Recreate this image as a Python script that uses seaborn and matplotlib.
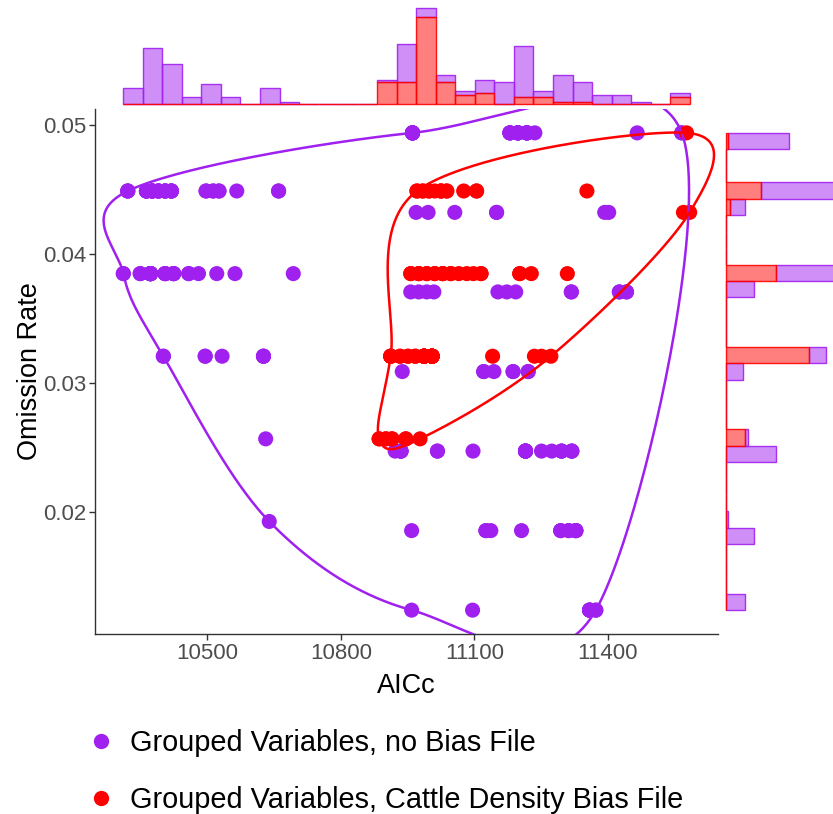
import numpy as np
import pandas as pd
import matplotlib
matplotlib.use("Agg")
import matplotlib.pyplot as plt
from matplotlib.lines import Line2D
from matplotlib.colors import to_rgb
import seaborn as sns

sns.set_style("white")
plt.rcParams["font.family"] = ["Liberation Sans", "DejaVu Sans"]

GROUPS = ["Grouped Variables, no Bias File",
          "Grouped Variables, Cattle Density Bias File"]
PALETTE = {GROUPS[0]: "#A020F0", GROUPS[1]: "#FF0000"}

# Model runs without a bias file: AICc, omission rate, number of runs at that value
nobias_aicc = [10961, 11180, 11198, 11218, 11236, 11466, 11566,
               10321, 10363, 10376, 10390, 10405, 10419, 10497, 10513, 10526, 10566, 10660,
               10969, 10996, 11056, 11150, 11393, 11402,
               10311, 10349, 10372, 10405, 10424, 10458, 10480, 10521, 10562, 10693,
               10957, 10975, 10993, 11009, 11153, 11173, 11193, 11318, 11426, 11442,
               10401, 10495, 10533, 10626,
               10938, 11121, 11144, 11187, 11221,
               10631,
               10922, 10935, 11017, 11097, 11215, 11251, 11274, 11296, 11319,
               10639,
               10959, 11126, 11137, 11206, 11294, 11312, 11328,
               10959, 11096, 11359, 11373]
nobias_or = [0.04938] * 7 + [0.04487] * 11 + [0.04321] * 6 + [0.03846] * 10 + \
            [0.03704] * 10 + [0.03205] * 4 + [0.03086] * 5 + [0.02564] * 1 + \
            [0.02469] * 9 + [0.01923] * 1 + [0.01852] * 7 + [0.01235] * 4
nobias_n = [8, 4, 6, 6, 1, 1, 2,
            3, 5, 5, 4, 4, 4, 2, 2, 2, 1, 2,
            1, 1, 1, 2, 1, 1,
            2, 2, 11, 4, 4, 2, 1, 1, 1, 1,
            1, 1, 1, 1, 1, 1, 1, 2, 2, 2,
            2, 2, 1, 3,
            1, 2, 1, 2, 2,
            1,
            1, 4, 2, 1, 7, 1, 1, 3, 3,
            1,
            1, 2, 1, 1, 2, 2, 4,
            1, 1, 5, 2]

# Model runs with the cattle density bias file
cattle_aicc = [11577,
               10971, 10984, 10998, 11011, 11025, 11038, 11076, 11105, 11353,
               11570, 11584,
               10957, 10975, 10993, 11011, 11029, 11047, 11065, 11083, 11098, 11115, 11202, 11228, 11309,
               10912, 10933, 10951, 10967, 10987, 11005, 11141, 11235, 11251, 11272,
               10886, 10901, 10915, 10946, 10978]
cattle_or = [0.04938] * 1 + [0.04487] * 9 + [0.04321] * 2 + [0.03846] * 13 + \
            [0.03205] * 10 + [0.02564] * 5
cattle_n = [1,
            2, 2, 2, 1, 3, 2, 1, 2, 1,
            1, 1,
            2, 3, 2, 2, 3, 2, 1, 1, 1, 2, 2, 1, 1,
            4, 2, 2, 2, 12, 12, 1, 1, 1, 1,
            2, 2, 2, 2, 1]

x_ticks = [10500, 10800, 11100, 11400]
y_ticks = [0.02, 0.03, 0.04, 0.05]
y_tick_labels = ["0.02", "0.03", "0.04", "0.05"]


def expand(aicc, orate, n, label):
    return pd.DataFrame({"AICc": np.repeat(aicc, n),
                         "Omission Rate": np.repeat(orate, n),
                         "group": label})


df = pd.concat([expand(nobias_aicc, nobias_or, nobias_n, GROUPS[0]),
                expand(cattle_aicc, cattle_or, cattle_n, GROUPS[1])],
               ignore_index=True)


def convex_hull(points):
    pts = sorted(set(map(tuple, np.round(points, 6))))

    def cross(o, a, b):
        return (a[0] - o[0]) * (b[1] - o[1]) - (a[1] - o[1]) * (b[0] - o[0])

    lower, upper = [], []
    for p in pts:
        while len(lower) >= 2 and cross(lower[-2], lower[-1], p) <= 0:
            lower.pop()
        lower.append(p)
    for p in reversed(pts):
        while len(upper) >= 2 and cross(upper[-2], upper[-1], p) <= 0:
            upper.pop()
        upper.append(p)
    return np.array(lower[:-1] + upper[:-1])


def closed_spline(P, n=80):
    """Closed Catmull-Rom curve through the vertices P."""
    out = []
    N = len(P)
    t = np.linspace(0, 1, n, endpoint=False)[:, None]
    h00 = 2 * t**3 - 3 * t**2 + 1
    h10 = t**3 - 2 * t**2 + t
    h01 = -2 * t**3 + 3 * t**2
    h11 = t**3 - t**2
    for i in range(N):
        p0, p1, p2, p3 = P[i - 1], P[i], P[(i + 1) % N], P[(i + 2) % N]
        m1 = (p2 - p0) / 2
        m2 = (p3 - p1) / 2
        out.append(h00 * p1 + h10 * m1 + h01 * p2 + h11 * m2)
    out = np.vstack(out)
    return np.vstack([out, out[:1]])


W, H = 833, 814
fig = plt.figure(figsize=(W / 100, H / 100), dpi=100)


def box(l, t, r, b):
    return [l / W, 1 - b / H, (r - l) / W, (b - t) / H]


ax = fig.add_axes(box(95, 109, 718, 634))
ax_top = fig.add_axes(box(95, 3, 718, 109))
ax_right = fig.add_axes(box(720, 109, 845, 634))

# main scatter
sns.scatterplot(data=df, x="AICc", y="Omission Rate", hue="group",
                hue_order=GROUPS, palette=PALETTE, s=118, linewidth=0,
                legend=False, ax=ax, zorder=2)

xmin, xmax = df["AICc"].min(), df["AICc"].max()
ymin, ymax = df["Omission Rate"].min(), df["Omission Rate"].max()
xpad, ypad = 0.05 * (xmax - xmin), 0.05 * (ymax - ymin)
ax.set_xlim(xmin - xpad, xmax + xpad)
ax.set_ylim(ymin - ypad, ymax + ypad)

# smoothed hull around each group
for g in GROUPS:
    sub = df[df["group"] == g][["AICc", "Omission Rate"]].to_numpy()
    disp = ax.transData.transform(sub)
    hv = convex_hull(disp)
    curve = ax.transData.inverted().transform(closed_spline(hv))
    ax.plot(curve[:, 0], curve[:, 1], color=PALETTE[g], lw=1.8, zorder=3,
            solid_capstyle="round")
ax.set_xlim(xmin - xpad, xmax + xpad)
ax.set_ylim(ymin - ypad, ymax + ypad)

ax.set_xticks(x_ticks)
ax.set_xticklabels([str(v) for v in x_ticks])
ax.set_yticks(y_ticks)
ax.set_yticklabels(y_tick_labels)
for side in ["top", "right"]:
    ax.spines[side].set_visible(False)
for side in ["left", "bottom"]:
    ax.spines[side].set_color("#333333")
    ax.spines[side].set_linewidth(1.0)
ax.tick_params(axis="both", bottom=True, left=True, length=4, width=1,
               color="#333333", labelcolor="#4D4D4D", labelsize=16, pad=2.5,
               direction="out")
ax.set_xlabel("AICc", fontsize=19.5, color="black")
ax.set_ylabel("Omission Rate", fontsize=19.5, color="black")
ax.xaxis.set_label_coords(0.5, -0.075)
ax.yaxis.set_label_coords(-0.084, 0.5)

# marginal histograms
xbins = np.linspace(xmin, xmax, 30)
ybins = np.linspace(ymin, ymax, 30)
sns.histplot(data=df, x="AICc", hue="group", hue_order=GROUPS, palette=PALETTE,
             bins=xbins, multiple="stack", legend=False, ax=ax_top)
sns.histplot(data=df, y="Omission Rate", hue="group", hue_order=GROUPS,
             palette=PALETTE, bins=ybins, multiple="stack", legend=False,
             ax=ax_right)


def style_bars(a):
    for p in a.patches:
        rgb = np.array(p.get_facecolor()[:3])
        g = min(GROUPS, key=lambda k: np.sum((np.array(to_rgb(PALETTE[k])) - rgb) ** 2))
        base = to_rgb(PALETTE[g])
        p.set_alpha(None)
        p.set_facecolor((*base, 0.5))
        p.set_edgecolor((*base, 0.9))
        p.set_linewidth(1.0)
        p.set_zorder(2 if g == GROUPS[1] else 1)


style_bars(ax_top)
style_bars(ax_right)

top_max = max(p.get_y() + p.get_height() for p in ax_top.patches)
right_max = max(p.get_x() + p.get_width() for p in ax_right.patches)
ax_top.set_xlim(ax.get_xlim())
ax_top.set_ylim(-0.05 * top_max, 1.05 * top_max)
ax_right.set_ylim(ax.get_ylim())
ax_right.set_xlim(-0.05 * right_max, 1.05 * right_max)
ax_top.axis("off")
ax_right.axis("off")

handles = [Line2D([0], [0], marker="o", linestyle="", markersize=11,
                  markerfacecolor=PALETTE[g], markeredgewidth=0) for g in GROUPS]
leg = fig.legend(handles, GROUPS, loc="upper left",
                 bbox_to_anchor=(87 / W, 1 - 729 / H),
                 frameon=False, fontsize=20.8, handlelength=1.0,
                 handletextpad=0.5, labelspacing=1.02, borderpad=0,
                 borderaxespad=0)
for txt in leg.get_texts():
    txt.set_color("black")

fig.savefig("out.png", dpi=100)
